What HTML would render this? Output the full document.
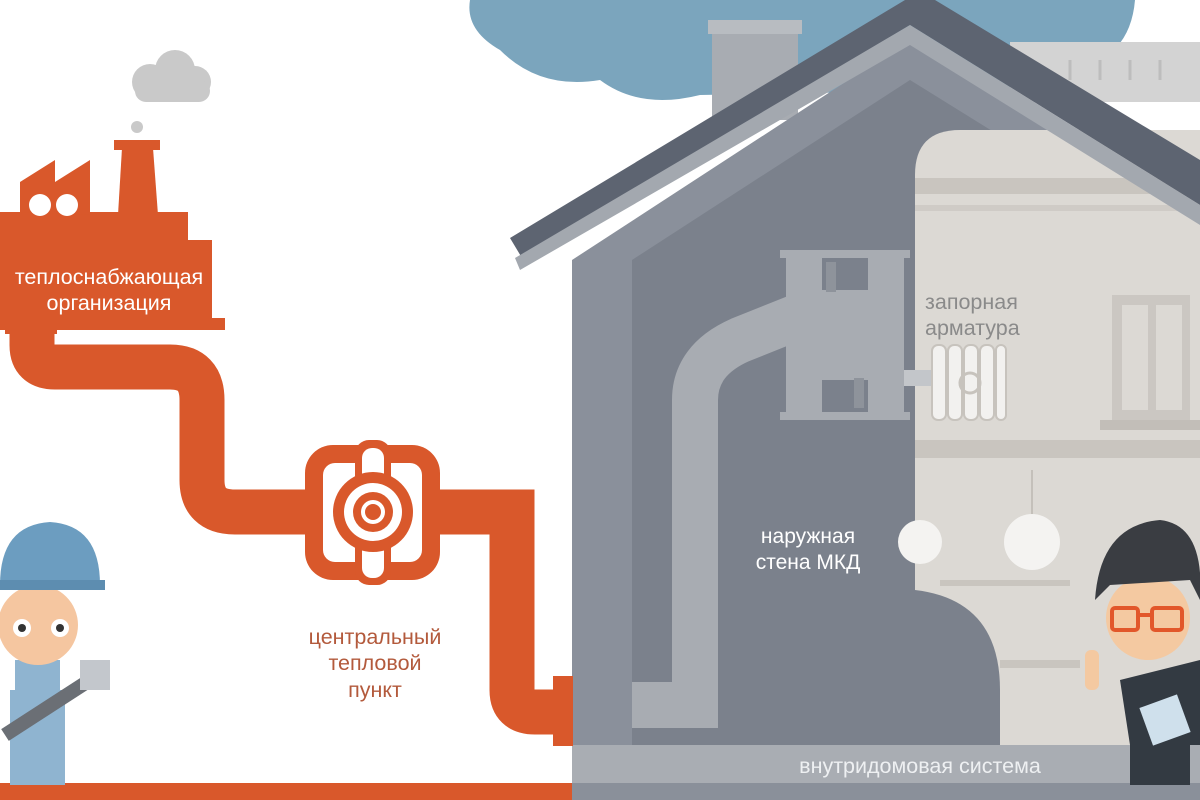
<!DOCTYPE html>
<html><head><meta charset="utf-8"><style>html,body{margin:0;padding:0;background:#fff}svg{display:block}text{font-family:"Liberation Sans","DejaVu Sans",sans-serif}</style></head>
<body>
<svg width="1200" height="800" viewBox="0 0 1200 800" xmlns="http://www.w3.org/2000/svg">
<rect width="1200" height="800" fill="#fff"/>
<g fill="#7ba5bd">
<path d="M470 0 L1135 0 Q1130 60 1070 70 Q1040 100 980 90 L700 95 Q640 110 600 80 Q540 90 500 50 Q465 30 470 0Z"/>
</g>
<rect x="1010" y="42" width="190" height="60" fill="#d3d3d3"/>
<g stroke="#bdbdbd" stroke-width="3"><line x1="1070" y1="60" x2="1070" y2="80"/><line x1="1100" y1="60" x2="1100" y2="80"/><line x1="1130" y1="60" x2="1130" y2="80"/><line x1="1160" y1="60" x2="1160" y2="80"/></g>
<rect x="712" y="30" width="86" height="90" fill="#a8acb2"/>
<rect x="708" y="20" width="94" height="14" fill="#b8bcc1"/>
<polygon points="572,260 910,40 1200,225 1200,745 572,745" fill="#8a909b"/>
<polygon points="632,260 910,80 1200,260 1200,745 632,745" fill="#7b818c"/>
<path d="M915 745 L915 175 Q915 130 960 130 L1200 130 L1200 745Z" fill="#dcd9d4"/>
<rect x="915" y="178" width="285" height="16" fill="#c9c5bf"/>
<rect x="915" y="205" width="285" height="6" fill="#cfcbc6"/>
<rect x="915" y="440" width="285" height="18" fill="#c9c5bf"/>
<rect x="1112" y="295" width="78" height="125" fill="#cbc7c2"/>
<rect x="1122" y="305" width="26" height="105" fill="#dcd9d4"/>
<rect x="1156" y="305" width="26" height="105" fill="#dcd9d4"/>
<rect x="1100" y="420" width="100" height="10" fill="#c2beb8"/>
<line x1="1032" y1="470" x2="1032" y2="515" stroke="#c4c0ba" stroke-width="2"/>
<circle cx="1032" cy="542" r="28" fill="#f4f3f1"/>
<circle cx="920" cy="542" r="22" fill="#f4f3f1"/>
<rect x="940" y="580" width="130" height="6" fill="#c9c5bf"/>
<rect x="1000" y="660" width="80" height="8" fill="#c9c5bf"/>
<path d="M915 590 Q1000 600 1000 690 L1000 745 L915 745Z" fill="#7b818c"/>
<polygon points="510,238 905,0 935,0 1200,160 1200,205 910,25 522,258" fill="#5d6471"/>
<polygon points="515,258 910,25 1200,205 1200,225 910,45 520,270" fill="#a3a8af"/>
<path d="M632 705 L695 705 L695 400 Q695 360 740 340 L795 318" fill="none" stroke="#a8acb2" stroke-width="46"/>
<g fill="#a8acb2">
<rect x="786" y="250" width="36" height="170"/>
<rect x="868" y="250" width="36" height="170"/>
<rect x="822" y="290" width="46" height="90"/>
<rect x="780" y="250" width="130" height="8"/>
<rect x="780" y="412" width="130" height="8"/>
</g>
<rect x="826" y="262" width="10" height="30" fill="#8e939b"/>
<rect x="854" y="378" width="10" height="30" fill="#8e939b"/>
<rect x="904" y="370" width="28" height="16" fill="#c3c6ca"/>
<g fill="#f2f1ef" stroke="#c7c3bd" stroke-width="2">
<rect x="932" y="345" width="14" height="75" rx="6"/><rect x="948" y="345" width="14" height="75" rx="6"/><rect x="964" y="345" width="14" height="75" rx="6"/><rect x="980" y="345" width="14" height="75" rx="6"/><rect x="996" y="345" width="10" height="75" rx="5"/>
</g>
<circle cx="970" cy="383" r="10" fill="none" stroke="#c7c3bd" stroke-width="3"/>
<rect x="572" y="745" width="628" height="38" fill="#a9adb3"/>
<rect x="572" y="783" width="628" height="17" fill="#8a909a"/>
<rect x="0" y="783" width="572" height="17" fill="#d9582b"/>
<g fill="#c9c9c9"><circle cx="150" cy="82" r="18"/><circle cx="175" cy="70" r="20"/><circle cx="195" cy="82" r="16"/><rect x="135" y="80" width="75" height="22" rx="11"/><circle cx="137" cy="127" r="6"/></g>
<g fill="#d9582b">
<rect x="0" y="240" width="212" height="80"/>
<rect x="0" y="318" width="225" height="12"/>
<rect x="0" y="212" width="188" height="32"/>
<polygon points="20,212 20,182 55,160 55,182 90,160 90,215"/>
<polygon points="118,215 122,148 153,148 158,215"/>
<rect x="114" y="140" width="46" height="10"/>
<rect x="5" y="320" width="52" height="14"/>
</g>
<circle cx="40" cy="205" r="11" fill="#fff"/><circle cx="67" cy="205" r="11" fill="#fff"/>
<path d="M32 320 L32 345 Q32 367 55 367 L170 367 Q202 367 202 400 L202 480 Q202 512 235 512 L512 512 L512 690 Q512 712 535 712 L560 712" fill="none" stroke="#d9582b" stroke-width="45"/>
<rect x="553" y="676" width="20" height="70" fill="#d9582b"/>
<rect x="305" y="445" width="135" height="135" rx="28" fill="#d9582b"/>
<rect x="323" y="463" width="99" height="99" rx="12" fill="#fff"/>
<rect x="355" y="440" width="36" height="145" rx="14" fill="#d9582b"/>
<rect x="362" y="448" width="22" height="130" rx="10" fill="#fff"/>
<circle cx="373" cy="512" r="40" fill="#d9582b"/>
<circle cx="373" cy="512" r="29" fill="#fff"/>
<circle cx="373" cy="512" r="20" fill="#d9582b"/>
<circle cx="373" cy="512" r="12" fill="#fff"/>
<circle cx="373" cy="512" r="8" fill="#d9582b"/>
<rect x="10" y="690" width="55" height="95" fill="#8fb4d0"/>
<rect x="15" y="660" width="45" height="40" fill="#8fb4d0"/>
<circle cx="38" cy="625" r="40" fill="#f5c6a0"/>
<path d="M0 585 Q0 525 50 522 Q100 525 100 585Z" fill="#6c9dc0"/>
<rect x="0" y="580" width="105" height="10" fill="#5d8db0"/>
<circle cx="22" cy="628" r="9" fill="#fff"/><circle cx="60" cy="628" r="9" fill="#fff"/>
<circle cx="22" cy="628" r="4" fill="#333"/><circle cx="60" cy="628" r="4" fill="#333"/>
<line x1="5" y1="735" x2="90" y2="680" stroke="#6b6f75" stroke-width="14"/>
<rect x="80" y="660" width="30" height="30" fill="#c3c7cc"/>
<path d="M1120 680 L1200 660 L1200 745 L1130 745Z" fill="#333a42"/>
<rect x="1130" y="745" width="60" height="40" fill="#333a42"/>
<circle cx="1148" cy="618" r="42" fill="#f4c9a1"/>
<path d="M1095 600 Q1100 525 1160 520 Q1205 525 1200 600 L1190 580 L1110 585Z" fill="#3a3d42"/>
<g fill="none" stroke="#e2572a" stroke-width="4"><rect x="1112" y="608" width="26" height="22" rx="3"/><rect x="1152" y="608" width="30" height="22" rx="3"/><line x1="1138" y1="615" x2="1152" y2="615"/></g>
<rect x="1145" y="700" width="40" height="40" fill="#cfe0ec" transform="rotate(-20 1165 720)"/>
<rect x="1085" y="650" width="14" height="40" rx="6" fill="#f4c9a1"/>
<g font-size="21.5" fill="#fff" text-anchor="middle">
<text x="109" y="284">теплоснабжающая</text>
<text x="109" y="310">организация</text>
</g>
<g font-size="21.5" fill="#b35a3c" text-anchor="middle">
<text x="375" y="644">центральный</text>
<text x="375" y="670">тепловой</text>
<text x="375" y="697">пункт</text>
</g>
<g font-size="21.5" fill="#8a8a8a">
<text x="925" y="309">запорная</text>
<text x="925" y="335">арматура</text>
</g>
<g font-size="21" fill="#fff" text-anchor="middle">
<text x="808" y="543">наружная</text>
<text x="808" y="569">стена МКД</text>
</g>
<text x="920" y="773" font-size="21.5" fill="#eef0f2" text-anchor="middle">внутридомовая система</text>
</svg>
</body></html>
